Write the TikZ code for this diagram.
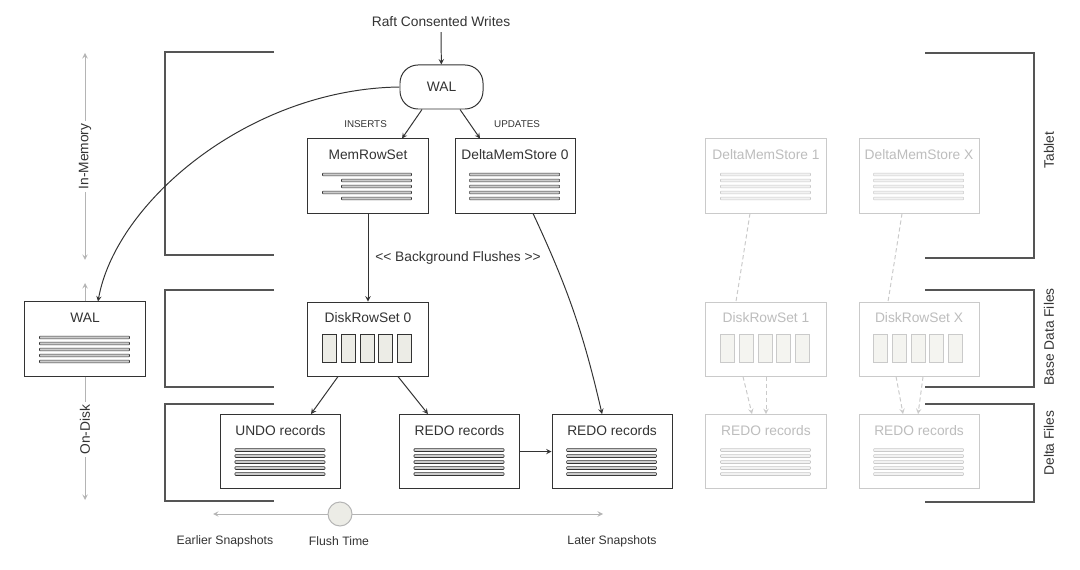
\documentclass[tikz,border=0pt]{standalone}
\usepackage{fontspec}
\setmainfont{Liberation Sans}
\usetikzlibrary{positioning}
\usetikzlibrary{calc}

\definecolor{ink}{HTML}{333333}
\definecolor{frame}{HTML}{555555}
\definecolor{spangray}{HTML}{B4B4B4}
\definecolor{faded}{HTML}{CACACA}
\definecolor{fadedtext}{HTML}{BDBDBD}
\definecolor{cellfill}{HTML}{ECECE6}

\tikzset{
  store/.style={draw=ink,fill=white,text=ink,line width=0.7pt,minimum width=3cm,
    inner xsep=0pt,inner ysep=0pt,text height=0.52cm,text depth=1.33cm},
  ghost/.style={store,draw=faded,text=fadedtext},
  logstore/.style={draw=ink,fill=white,line width=0.7pt,rounded corners=0.45cm,
    minimum width=2.075cm,minimum height=1.1cm},
  tag/.style={font=\fontsize{7}{8}\selectfont},
  flow/.style={draw=ink,line width=0.7pt},
  ghostflow/.style={draw=faded,line width=0.7pt,dash pattern=on 3pt off 2pt},
  bracket/.style={draw=frame,line width=1pt},
  spanline/.style={draw=spangray,line width=0.7pt},
  sidelabel/.style={rotate=90,fill=white,inner sep=2pt}
}

% record lines inside a store: [colour]{node}
\newcommand{\stripes}[2][ink]{%
  \foreach \yy in {36,42,48,54,60}
    \draw[draw=#1,fill=#1!25,line width=0.4pt,rounded corners=0.5pt]
      ($(#2.north west)+(15,\yy-1.4)$) rectangle ($(#2.north west)+(105,\yy+1.4)$);%
}
% column blocks inside a rowset: {node}{draw}{fill}
\newcommand{\cells}[3]{%
  \foreach \k in {0,...,4}
    \draw[draw=#2,fill=#3,line width=0.5pt]
      ($(#1.north west)+(15+18.7*\k,33)$) rectangle +(14,28);%
}

\begin{document}
\begin{tikzpicture}[x=0.025cm,y=-0.025cm,>=stealth,on grid,
    font=\fontsize{9.8}{11}\selectfont,text=ink]
\useasboundingbox (0,0) rectangle (1080,570);

% brackets
\draw[bracket] (274,52) -| (165,255) -- (274,255);
\draw[bracket] (274,290) -| (165,387) -- (274,387);
\draw[bracket] (274,404) -| (165,501) -- (274,501);
\draw[bracket] (925,53) -| (1034,258) -- (925,258);
\draw[bracket] (925,290) -| (1034,387) -- (925,387);
\draw[bracket] (925,404) -| (1034,502) -- (925,502);
\node[rotate=90] (tablet) at (1049,150) {Tablet};
\node[rotate=90] (basefiles) at (1049,337) {Base Data Files};
\node[rotate=90] (deltafiles) at (1049,443) {Delta Files};

% write path
\node (raft) at (441,22) {Raft Consented Writes};
\node[logstore] (wal) at (441.5,87) {WAL};
\draw[flow,->] (raft) -- (wal);

% memory
\node[store] (mrs) at (368,176) {MemRowSet};
\node[store] (dms0) [right=3.675cm of mrs] {DeltaMemStore 0};
\foreach \yy/\xx in {36/15,42/34,48/34,54/15,60/34}
  \draw[draw=ink,fill=ink!25,line width=0.4pt,rounded corners=0.5pt]
    ($(mrs.north west)+(\xx,\yy-1.4)$) rectangle ($(mrs.north west)+(104,\yy+1.4)$);
\stripes{dms0}

% disk
\node[store] (drs0) [below=4.075cm of mrs] {DiskRowSet 0};
\cells{drs0}{ink}{cellfill}
\node[store] (undo) [below left=2.8125cm and 2.1875cm of drs0] {UNDO records};
\node[store] (redoA) [below right=2.8125cm and 2.2875cm of drs0] {REDO records};
\node[store] (redoB) [right=3.8125cm of redoA] {REDO records};
\stripes{undo}
\stripes{redoA}
\stripes{redoB}

\node[store] (dwal) at (85,339) {WAL};
\stripes{dwal}

% flows
\draw[flow,->] ([xshift=-0.4875cm]wal.south) -- node[tag,left=0.5cm] {INSERTS} ([xshift=0.85cm]mrs.north);
\draw[flow,->] ([xshift=0.4625cm]wal.south) -- node[tag,right=0.475cm] {UPDATES} ([xshift=-0.875cm]dms0.north);
\draw[flow,->] (wal.west) .. controls +(-150,2) and +(18,-100) .. ([xshift=0.325cm]dwal.north);
\draw[flow,->] (mrs) -- (drs0);
\node (bgflush) at (458,258) {<\kern0pt< Background Flushes >\kern0pt>};
\draw[flow,->] ([xshift=0.45cm]dms0.south) to[bend left=6] ([xshift=-0.25cm]redoB.north);
\draw[flow,->] ([xshift=-0.75cm]drs0.south) -- ([xshift=0.7625cm]undo.north);
\draw[flow,->] ([xshift=0.75cm]drs0.south) -- ([xshift=-0.7875cm]redoA.north);
\draw[flow,->] (redoA) -- (redoB);

% other rowsets
\node[ghost] (dms1) at (766,176) {DeltaMemStore 1};
\node[ghost] (dmsx) [right=3.825cm of dms1] {DeltaMemStore X};
\node[ghost] (drs1) [below=4.075cm of dms1] {DiskRowSet 1};
\node[ghost] (drsx) [below=4.075cm of dmsx] {DiskRowSet X};
\node[ghost] (redoC) [below=2.8125cm of drs1] {REDO records};
\node[ghost] (redoX) [below=2.8125cm of drsx] {REDO records};
\stripes[faded]{dms1}
\stripes[faded]{dmsx}
\stripes[faded]{redoC}
\stripes[faded]{redoX}
\cells{drs1}{faded}{cellfill!60}
\cells{drsx}{faded}{cellfill!60}
\draw[ghostflow] ([xshift=-0.4cm]dms1.south) -- ([xshift=-0.75cm]drs1.north);
\draw[ghostflow,->] ([xshift=-0.575cm]drs1.south) -- ([xshift=-0.35cm]redoC.north);
\draw[ghostflow,->] (drs1) -- (redoC);
\draw[ghostflow] ([xshift=-0.425cm]dmsx.south) -- ([xshift=-0.775cm]drsx.north);
\draw[ghostflow,->] ([xshift=-0.575cm]drsx.south) -- ([xshift=-0.4cm]redoX.north);
\draw[ghostflow,->] ([xshift=0.1cm]drsx.south) -- ([xshift=-0.025cm]redoX.north);

% layer scale
\coordinate (memtop) at (85,53);
\coordinate (membot) at (85,260);
\coordinate (disktop) at (85,283);
\coordinate (diskbot) at (85,500);
\draw[spanline,<->] (memtop) -- node[sidelabel] {In-Memory} (membot);
\draw[spanline,->] (dwal) -- (disktop);
\draw[spanline,->] (dwal) -- node[sidelabel,pos=0.43] {On-Disk} (diskbot);

% snapshot timeline
\node[circle,draw=spangray,fill=cellfill,minimum size=0.6cm,line width=0.7pt] (flush) at (340,514) {};
\coordinate (early) at (213,514);
\coordinate (late) at (603,514);
\draw[spanline,->] (flush) -- (early);
\draw[spanline,->] (flush) -- (late);
\node[font=\fontsize{8.7}{10}\selectfont] (earlier) at (225,541) {Earlier Snapshots};
\node[font=\fontsize{8.7}{10}\selectfont] (flushtime) at (339,541) {Flush Time};
\node[font=\fontsize{8.7}{10}\selectfont] (later) at (612,541) {Later Snapshots};
\end{tikzpicture}
\end{document}
